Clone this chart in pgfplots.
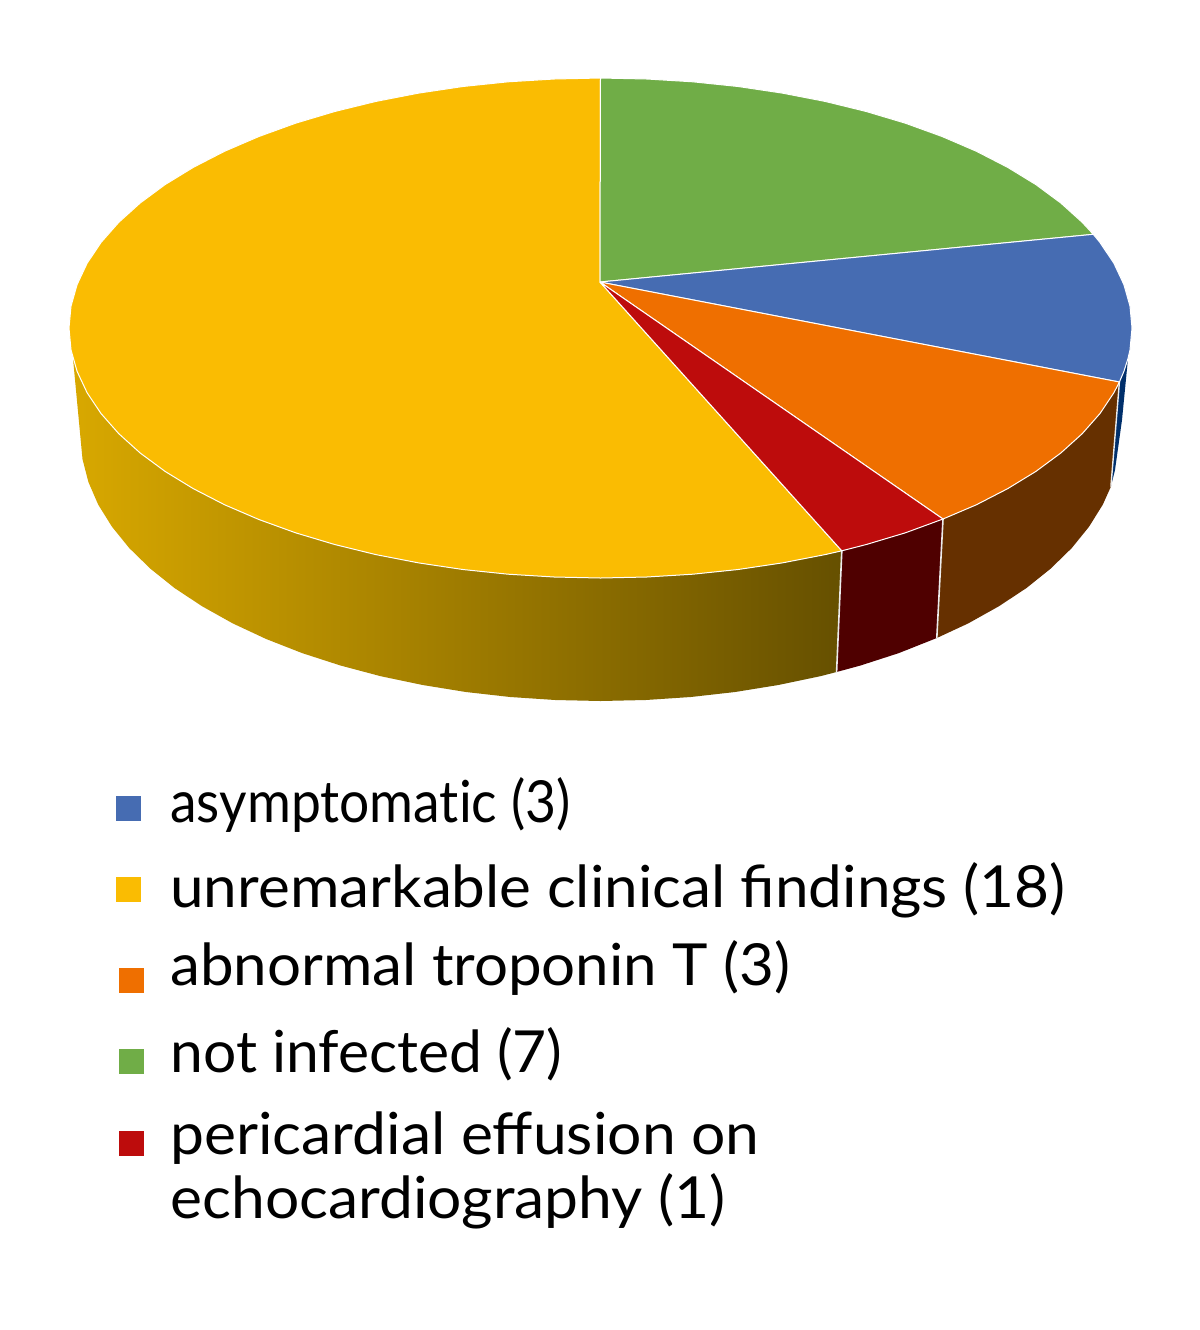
\documentclass[border=0pt]{standalone}
\usepackage{fontspec}
\setmainfont{Lato}
\usepackage{pgfplots}
\pgfplotsset{compat=1.18}
\definecolor{cblue}{HTML}{466CB2}
\definecolor{cyellow}{HTML}{FABC02}
\definecolor{corange}{HTML}{EF6F00}
\definecolor{cgreen}{HTML}{70AD47}
\definecolor{cred}{HTML}{BD0C0C}
\definecolor{wblue}{HTML}{002F6B}
\definecolor{worange}{HTML}{663000}
\definecolor{wred}{HTML}{4F0000}
\definecolor{wyl}{HTML}{D8A800}
\definecolor{wyr}{HTML}{665000}
\newcommand{\lab}[2]{\scalebox{#1}[1]{\fontsize{29pt}{32pt}\selectfont #2}}
\begin{document}
\begin{tikzpicture}
\begin{axis}[
  scale only axis, width=600pt, height=665pt,
  xmin=0, xmax=1200, ymin=0, ymax=1330, y dir=reverse,
  hide axis, clip=false]
% page background
\addplot[draw=none, fill=white, forget plot] coordinates {(0,0)(1200,0)(1200,1330)(0,1330)} \closedcycle;
% walls
\addplot[draw=none, fill=wblue] coordinates {(1128,358.5)(1122,420)(1115,470)(1110.9,486.6)(1119.4,382)(1123.9,371.4)(1128,358.5)};
\addplot[draw=none, fill=worange] coordinates {(943,519)(976.3,504.8)(1007.6,488.7)(1035.9,471.4)(1060.8,453)(1082.2,433.7)(1100,413.5)(1113.9,392.7)(1119.4,382)(1110.9,486.6)(1102.8,504.6)(1089.1,526.6)(1071.8,548)(1050.8,568.5)(1026.5,588)(998.8,606.3)(968.2,623.4)(936.8,638)(943,519)};
\addplot[draw=none, fill=wred] coordinates {(841.8,550.8)(866.3,544.5)(905.4,532.8)(943,519)(936.8,638)(898.8,653.1)(860.5,665.5)(836.6,672)(841.8,550.8)};
\addplot[draw=none, left color=wyl, right color=wyr] coordinates {(73,358.5)(77.1,371.4)(87.1,392.7)(101,413.5)(118.8,433.7)(140.2,453)(165.1,471.4)(193.4,488.7)(224.7,504.8)(258.9,519.5)(295.6,532.8)(334.7,544.5)(375.9,554.6)(418.7,562.9)(462.9,569.5)(508.2,574.2)(554.2,577)(600.5,578)(646.8,577)(692.8,574.2)(738.1,569.5)(782.3,562.9)(825.1,554.6)(841.8,550.8)(836.6,672)(820.3,676.2)(778.3,685)(735.1,692)(690.8,697)(645.8,700)(600.5,701)(555.2,700)(510.2,697)(465.9,692)(422.7,685)(380.7,676.2)(340.5,665.5)(302.2,653.1)(266.2,639)(232.8,623.4)(202.2,606.3)(174.5,588)(150.2,568.5)(129.2,548)(111.9,526.6)(98.2,504.6)(88.4,482)(82.5,459.1)(73,358.5)};
% wall dividers
\addplot[white!85!gray, line width=0.8pt] coordinates {(841.8,550.8)(836.6,672)};
\addplot[white!85!gray, line width=0.8pt] coordinates {(943,519)(936.8,638)};
\addplot[white!85!gray, line width=0.7pt] coordinates {(1119.4,382)(1110.9,486.6)};
% top faces
\addplot[draw=white, line width=0.5pt, fill=cyellow] coordinates {(600,282)(841.8,550.8)(825.1,554.6)(782.3,562.9)(738.1,569.5)(692.8,574.2)(646.8,577)(600.5,578)(554.2,577)(508.2,574.2)(462.9,569.5)(418.7,562.9)(375.9,554.6)(334.7,544.5)(295.6,532.8)(258.9,519.5)(224.7,504.8)(193.4,488.7)(165.1,471.4)(140.2,453)(118.8,433.7)(101,413.5)(87.1,392.7)(77.1,371.4)(71,349.8)(69,328)(71,306.2)(77.1,284.6)(87.1,263.3)(101,242.5)(118.8,222.3)(140.2,203)(165.1,184.6)(193.4,167.3)(224.7,151.2)(258.9,136.5)(295.6,123.2)(334.7,111.5)(375.9,101.4)(418.7,93.1)(462.9,86.5)(508.2,81.8)(554.2,79)(600.5,78)(600,282)};
\addplot[draw=white, line width=0.5pt, fill=cgreen] coordinates {(600,282)(600.5,78)(646.8,79)(692.8,81.8)(738.1,86.5)(782.3,93.1)(825.1,101.4)(866.3,111.5)(905.4,123.2)(942.1,136.5)(976.3,151.2)(1007.6,167.3)(1035.9,184.6)(1060.8,203)(1082.2,222.3)(1093.3,234.3)(600,282)};
\addplot[draw=white, line width=0.5pt, fill=cblue] coordinates {(600,282)(1093.3,234.3)(1100,242.5)(1113.9,263.3)(1123.9,284.6)(1130,306.2)(1132,328)(1130,349.8)(1128,358.5)(1123.9,371.4)(1119.4,382)(600,282)};
\addplot[draw=white, line width=0.5pt, fill=corange] coordinates {(600,282)(1119.4,382)(1113.9,392.7)(1100,413.5)(1082.2,433.7)(1060.8,453)(1035.9,471.4)(1007.6,488.7)(976.3,504.8)(943,519)(600,282)};
\addplot[draw=white, line width=0.5pt, fill=cred] coordinates {(600,282)(943,519)(905.4,532.8)(866.3,544.5)(841.8,550.8)(600,282)};
% legend
\addplot[only marks, mark=square*, mark size=6pt, mark options={draw=cblue, fill=cblue, line width=0pt}] coordinates {(128,808)};
\addplot[only marks, mark=square*, mark size=6pt, mark options={draw=cyellow, fill=cyellow, line width=0pt}] coordinates {(128,889)};
\addplot[only marks, mark=square*, mark size=6pt, mark options={draw=corange, fill=corange, line width=0pt}] coordinates {(131,980)};
\addplot[only marks, mark=square*, mark size=6pt, mark options={draw=cgreen, fill=cgreen, line width=0pt}] coordinates {(131,1061)};
\addplot[only marks, mark=square*, mark size=6pt, mark options={draw=cred, fill=cred, line width=0pt}] coordinates {(131,1143)};
\node[anchor=base west, inner sep=0pt] at (axis cs:170,822) {\lab{0.92}{asymptomat\kern0pt ic (3)}};
\node[anchor=base west, inner sep=0pt] at (axis cs:170,907) {\lab{1.038}{unremarkable clinical findings (18)}};
\node[anchor=base west, inner sep=0pt] at (axis cs:170,985) {\lab{1.035}{abnormal troponin T (3)}};
\node[anchor=base west, inner sep=0pt] at (axis cs:170,1072) {\lab{1.013}{not infected (7)}};
\node[anchor=base west, inner sep=0pt] at (axis cs:170,1154) {\lab{1.044}{pericardial effusion on}};
\node[anchor=base west, inner sep=0pt] at (axis cs:170,1218) {\lab{1.043}{echocardiography (1)}};
\end{axis}
\end{tikzpicture}
\end{document}
